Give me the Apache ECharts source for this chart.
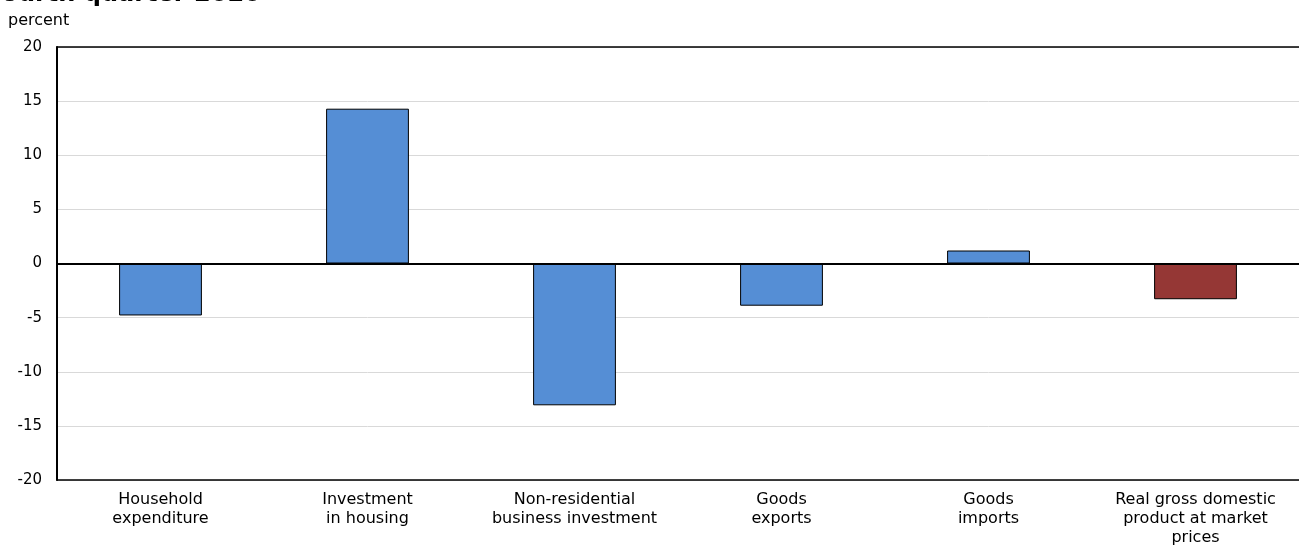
<!DOCTYPE html>
<html>
<head>
<meta charset="utf-8">
<script src="https://cdn.jsdelivr.net/npm/echarts@6/dist/echarts.min.js"></script>
<style>
  html, body { margin: 0; padding: 0; background: #fff; }
  #chart { width: 1299px; height: 547px; }
</style>
</head>
<body>
<div id="chart"></div>
<script>
var categories = [
    "Household\nexpenditure",
    "Investment\nin housing",
    "Non-residential\nbusiness investment",
    "Goods\nexports",
    "Goods\nimports",
    "Real gross domestic\nproduct at market\nprices"
];
var values = [-4.8, 14.3, -13.1, -3.9, 1.2, -3.3];
var barColors = ["#558ed5", "#558ed5", "#558ed5", "#558ed5", "#558ed5", "#953735"];
var yTicks = { min: -20, max: 20, interval: 5 };

var chart = echarts.init(document.getElementById('chart'));

var option = {
    animation: false,
    textStyle: { fontFamily: 'DejaVu Sans' },
    title: {
        text: 'Fourth quarter 2020',
        left: -19,
        top: -22,
        textStyle: { fontSize: 24, fontWeight: 'bold', color: '#000', fontFamily: 'DejaVu Sans' }
    },
    graphic: [{
        type: 'text',
        left: 8,
        top: 13,
        style: { text: 'percent', fontSize: 16, fill: '#000', fontFamily: 'DejaVu Sans' }
    }],
    grid: { left: 57, right: 0, top: 47, bottom: 66 },
    xAxis: [{
        type: 'category',
        data: categories,
        position: 'bottom',
        axisLine: { onZero: false, lineStyle: { color: '#000', width: 1.5 } },
        axisTick: { show: false },
        axisLabel: { color: '#000', fontSize: 16, lineHeight: 19, margin: 10, interval: 0 }
    }, {
        type: 'category',
        data: categories,
        position: 'top',
        axisLine: { onZero: false, lineStyle: { color: '#000', width: 1.5 } },
        axisTick: { show: false },
        axisLabel: { show: false }
    }],
    yAxis: {
        type: 'value',
        min: yTicks.min,
        max: yTicks.max,
        interval: yTicks.interval,
        axisLine: { show: true, lineStyle: { color: '#000', width: 2 } },
        axisTick: { show: false },
        axisLabel: { color: '#000', fontSize: 15, margin: 15 },
        splitLine: { lineStyle: { color: '#d9d9d9', width: 1 } }
    },
    series: [{
        type: 'bar',
        barWidth: '40%',
        data: values.map(function (v, i) {
            return { value: v, itemStyle: { color: barColors[i] } };
        }),
        itemStyle: { borderColor: '#000', borderWidth: 1 },
        markLine: {
            silent: true,
            symbol: 'none',
            label: { show: false },
            lineStyle: { color: '#000', type: 'solid', width: 2 },
            data: [{ yAxis: 0 }]
        }
    }]
};

chart.setOption(option);
</script>
</body>
</html>
